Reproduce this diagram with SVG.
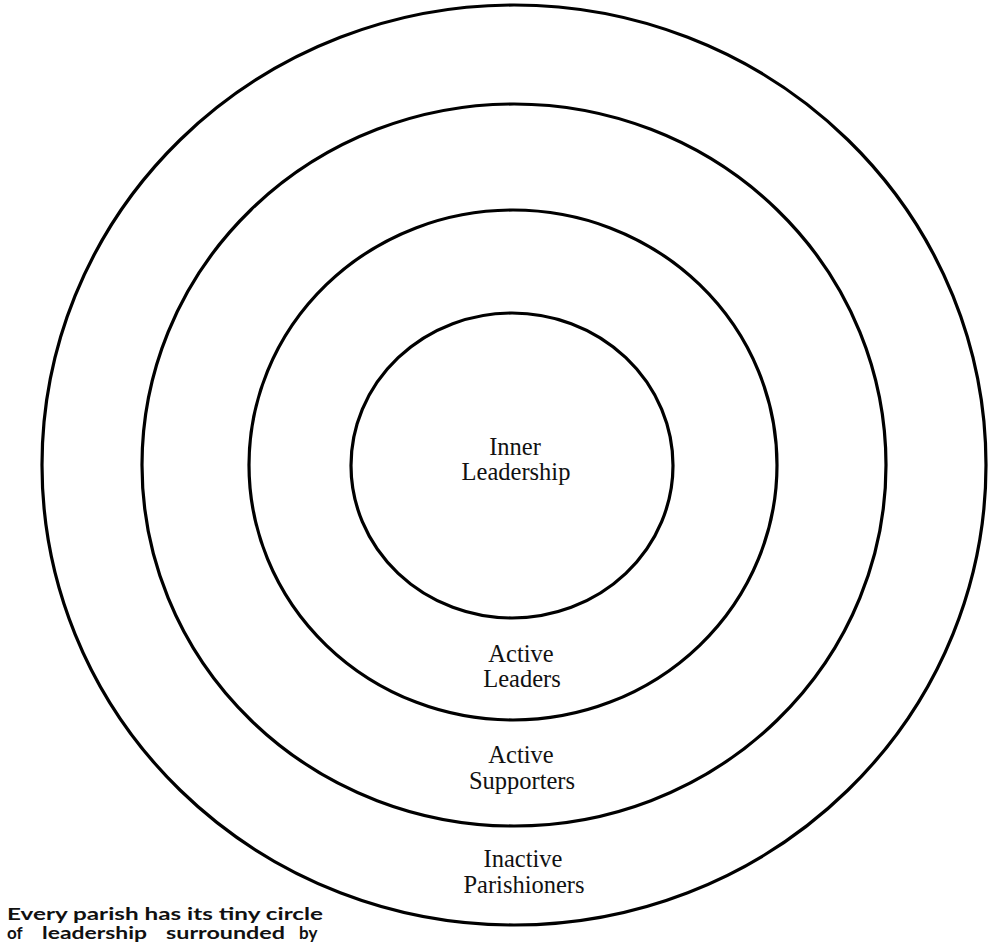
<svg xmlns="http://www.w3.org/2000/svg" width="993" height="945" viewBox="0 0 993 945">
<style>
  .ring { fill: none; stroke: #000; stroke-width: 3.2; }
  .lbl { font-family: "Liberation Serif", "Times New Roman", serif; font-size: 24.5px; fill: #111; text-anchor: middle; }
  .cap { font-family: "Lato", "Liberation Sans", sans-serif; font-weight: bold; font-size: 17px; fill: #111; }
</style>
<rect width="993" height="945" fill="#fff"/>
<g id="ring-inactive-parishioners">
  <ellipse class="ring" cx="514" cy="465" rx="472" ry="460" stroke-width="4"/>
  <text class="lbl" x="523" y="867">Inactive</text>
  <text class="lbl" x="524" y="893">Parishioners</text>
</g>
<g id="ring-active-supporters">
  <ellipse class="ring" cx="514" cy="465" rx="372" ry="361"/>
  <text class="lbl" x="521" y="763">Active</text>
  <text class="lbl" x="522" y="789">Supporters</text>
</g>
<g id="ring-active-leaders">
  <ellipse class="ring" cx="513" cy="465" rx="264" ry="255"/>
  <text class="lbl" x="521" y="662">Active</text>
  <text class="lbl" x="522" y="687">Leaders</text>
</g>
<g id="ring-inner-leadership">
  <ellipse class="ring" cx="512" cy="465.5" rx="161" ry="152.5"/>
  <text class="lbl" x="515" y="455">Inner</text>
  <text class="lbl" x="516" y="480">Leadership</text>
</g>
<g id="connectors"/>
<g id="caption">
  <text class="cap" x="7" y="920" textLength="316" lengthAdjust="spacingAndGlyphs">Every parish has its tiny circle</text>
  <text class="cap" y="939"><tspan x="7">of</tspan><tspan x="42" textLength="105" lengthAdjust="spacingAndGlyphs">leadership</tspan><tspan x="166" textLength="119" lengthAdjust="spacingAndGlyphs">surrounded</tspan><tspan x="299">by</tspan></text>
</g>
</svg>
